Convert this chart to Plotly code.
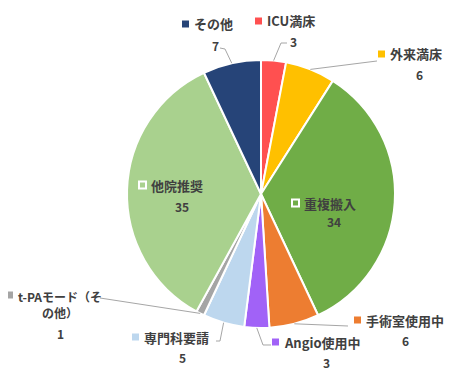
import math
import plotly.graph_objects as go

# ---- data ----
categories = ["ICU満床", "外来満床", "重複搬入", "手術室使用中", "Angio使用中",
              "専門科要請", "t-PAモード（その他）", "他院推奨", "その他"]
values = [3, 6, 34, 6, 3, 5, 1, 35, 7]
colors = ["#FF5050", "#FFC000", "#70AD47", "#ED7D31", "#A162F7",
          "#BDD7EE", "#A5A5A5", "#A9D18E", "#264478"]

# page body has an 8px margin; paper is placed at (8, 8)
O = 8
W, H = 463, 367
CX, CY, R = 261, 194, 134  # window pixel coordinates


def px(x):
    return (x - O) / W


def py(y):
    return 1 - (y - O) / H


fig = go.Figure(go.Pie(
    labels=categories, values=values, sort=False, direction="clockwise",
    rotation=0, textinfo="none", hoverinfo="label+value",
    marker=dict(colors=colors, line=dict(color="white", width=2)),
    domain=dict(x=[px(CX - R), px(CX + R)], y=[py(CY + R), py(CY - R)]),
    showlegend=False,
))

FONT = "Noto Sans CJK JP"
TXT = "#404040"

# label layout: (marker-left x, y center, value center x, value y, inside?)
label_pos = {
    "ICU満床": (255, 21, 293, 41, False),
    "外来満床": (378, 54, 419, 74, False),
    "重複搬入": (292, 203, 334, 222, True),
    "手術室使用中": (354, 320, 405, 340, False),
    "Angio使用中": (272, 342, 326, 362, False),
    "専門科要請": (132, 337, 182, 357, False),
    "他院推奨": (139, 185, 182, 206, True),
    "その他": (182, 24, 215, 45, False),
    "t-PAモード（その他）": (6, 295, 60, 333, False),
}

annotations = []
shapes = []
MS = 7
for cat, val, col in zip(categories, values, colors):
    lx, ly, vx, vy, inside = label_pos[cat]
    # marker square
    if inside:
        shapes.append(dict(type="rect", xref="paper", yref="paper",
                           x0=px(lx), x1=px(lx + MS), y0=py(ly + MS / 2), y1=py(ly - MS / 2),
                           line=dict(color="white", width=2), fillcolor="rgba(0,0,0,0)"))
    else:
        shapes.append(dict(type="rect", xref="paper", yref="paper",
                           x0=px(lx), x1=px(lx + MS), y0=py(ly + MS / 2), y1=py(ly - MS / 2),
                           line=dict(width=0), fillcolor=col))
    if cat == "t-PAモード（その他）":
        annotations.append(dict(x=px(60), y=py(304), xref="paper", yref="paper",
                                xanchor="center", yanchor="middle", showarrow=False,
                                text="<b>t-PAモード（そ<br>の他）</b>", align="center",
                                font=dict(family=FONT, size=12, color=TXT)))
    else:
        annotations.append(dict(x=px(lx + MS + 3), y=py(ly), xref="paper", yref="paper",
                                xanchor="left", yanchor="middle", showarrow=False,
                                text="<b>%s</b>" % cat,
                                font=dict(family=FONT, size=13, color=TXT)))
    annotations.append(dict(x=px(vx), y=py(vy), xref="paper", yref="paper",
                            xanchor="center", yanchor="middle", showarrow=False,
                            text="<b>%d</b>" % val,
                            font=dict(family=FONT, size=12, color=TXT)))

# leader lines: from slice mid-angle edge to label anchor
total = sum(values)
cum = 0
mid = {}
for cat, val in zip(categories, values):
    a = (cum + val / 2) / total * 2 * math.pi
    mid[cat] = (CX + R * math.sin(a), CY - R * math.cos(a))
    cum += val

leaders = {
    "ICU満床": [(281, 43), (287, 43)],
    "外来満床": [(377, 61)],
    "その他": [(225, 49), (220, 48)],
    "手術室使用中": [(348, 326)],
    "Angio使用中": [(263, 345), (271, 345)],
    "専門科要請": [(220, 341), (216, 341)],
    "t-PAモード（その他）": [(100, 298)],
}
for cat, pts in leaders.items():
    sx, sy = mid[cat]
    path = "M%f,%f" % (px(sx), py(sy))
    for (x, y) in pts:
        path += " L%f,%f" % (px(x), py(y))
    shapes.append(dict(type="path", path=path, xref="paper", yref="paper",
                       line=dict(color="#A6A6A6", width=1)))

fig.update_layout(width=W, height=H, margin=dict(l=0, r=0, t=0, b=0),
                  paper_bgcolor="white", plot_bgcolor="white",
                  annotations=annotations, shapes=shapes)
fig.write_html("out.html")
